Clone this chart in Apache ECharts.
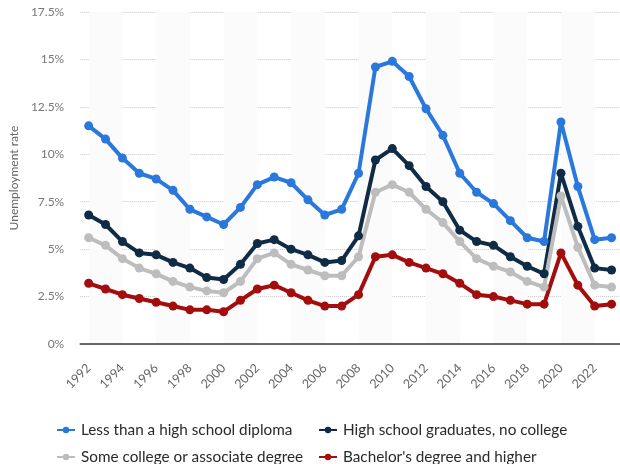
<!DOCTYPE html>
<html>
<head>
<meta charset="utf-8">
<script src="https://cdn.jsdelivr.net/npm/echarts@6/dist/echarts.min.js"></script>
<style>
html,body{margin:0;padding:0;background:#fff;}
#chart{width:620px;height:464px;}
</style>
</head>
<body>
<div id="chart"></div>
<script>
const years = ['1992','1993','1994','1995','1996','1997','1998','1999','2000','2001','2002','2003','2004','2005','2006','2007','2008','2009','2010','2011','2012','2013','2014','2015','2016','2017','2018','2019','2020','2021','2022','2023'];
const lessThanHS = [11.5,10.8,9.8,9.0,8.7,8.1,7.1,6.7,6.3,7.2,8.4,8.8,8.5,7.6,6.8,7.1,9.0,14.6,14.9,14.1,12.4,11.0,9.0,8.0,7.4,6.5,5.6,5.4,11.7,8.3,5.5,5.6];
const hsGrads = [6.8,6.3,5.4,4.8,4.7,4.3,4.0,3.5,3.4,4.2,5.3,5.5,5.0,4.7,4.3,4.4,5.7,9.7,10.3,9.4,8.3,7.5,6.0,5.4,5.2,4.6,4.1,3.7,9.0,6.2,4.0,3.9];
const someCollege = [5.6,5.2,4.5,4.0,3.7,3.3,3.0,2.8,2.7,3.3,4.5,4.8,4.2,3.9,3.6,3.6,4.6,8.0,8.4,8.0,7.1,6.4,5.4,4.5,4.1,3.8,3.3,3.0,7.8,5.1,3.1,3.0];
const bachelors = [3.2,2.9,2.6,2.4,2.2,2.0,1.8,1.8,1.7,2.3,2.9,3.1,2.7,2.3,2.0,2.0,2.6,4.6,4.7,4.3,4.0,3.7,3.2,2.6,2.5,2.3,2.1,2.1,4.8,3.1,2.0,2.1];
const seriesNames = ['Less than a high school diploma','High school graduates, no college','Some college or associate degree',"Bachelor's degree and higher"];
const colors = ['#2a78dc','#0f2b45','#bdbdbd','#a30d0d'];
const yTicks = [0,2.5,5,7.5,10,12.5,15,17.5];

const stripes = [];
for (let i = 0; i + 2 < years.length; i += 4) {
  stripes.push([{xAxis: years[i]}, {xAxis: years[i + 2]}]);
}

function lineSeries(name, data, color) {
  return {
    name: name, type: 'line', data: data, z: 3,
    symbol: 'circle', symbolSize: 9,
    lineStyle: {width: 4, color: color},
    itemStyle: {color: color},
    emphasis: {disabled: true}
  };
}

const legendPos = [[56, 422], [318, 422], [56, 449], [318, 449]];
const legends = seriesNames.map((n, i) => ({
  data: [n], orient: 'horizontal', left: legendPos[i][0], top: legendPos[i][1],
  padding: 0, itemWidth: 18, itemHeight: 8, selectedMode: false,
  textStyle: {color: '#2a2a2a', fontSize: 15.3, lineHeight: 16, fontFamily: 'Lato', padding: [0, 0, 0, 1]}
}));

const chart = echarts.init(document.getElementById('chart'), null, {renderer: 'canvas'});
chart.setOption({
  animation: false,
  backgroundColor: '#fff',
  textStyle: {fontFamily: 'Lato'},
  grid: {left: 78, right: -4, top: 12, bottom: 120, containLabel: false},
  xAxis: {
    type: 'category', data: years, boundaryGap: true, z: 10,
    axisTick: {show: false},
    axisLine: {show: true, lineStyle: {color: '#3a3a3a', width: 1.5}},
    axisLabel: {interval: 1, rotate: 45, color: '#666', fontSize: 12.5, fontFamily: 'Lato', margin: 22}
  },
  yAxis: {
    type: 'value', min: yTicks[0], max: yTicks[yTicks.length - 1], interval: 2.5,
    name: 'Unemployment rate', nameLocation: 'middle', nameGap: 60,
    nameTextStyle: {color: '#666', fontSize: 12, fontFamily: 'Lato'},
    axisLine: {show: false}, axisTick: {show: false},
    axisLabel: {color: '#777', fontSize: 12, fontFamily: 'Lato', margin: 16,
      formatter: v => String(v) + '%'},
    splitLine: {show: true, lineStyle: {color: '#c8c8c8', type: 'dotted', width: 1}}
  },
  legend: legends,
  series: [
    {type: 'line', name: 'stripes', data: [], z: 1, silent: true,
     markArea: {silent: true, itemStyle: {color: '#fbfbfb', opacity: 1, borderWidth: 0}, data: stripes}},
    lineSeries(seriesNames[0], lessThanHS, colors[0]),
    lineSeries(seriesNames[1], hsGrads, colors[1]),
    lineSeries(seriesNames[2], someCollege, colors[2]),
    lineSeries(seriesNames[3], bachelors, colors[3])
  ]
});
</script>
</body>
</html>
